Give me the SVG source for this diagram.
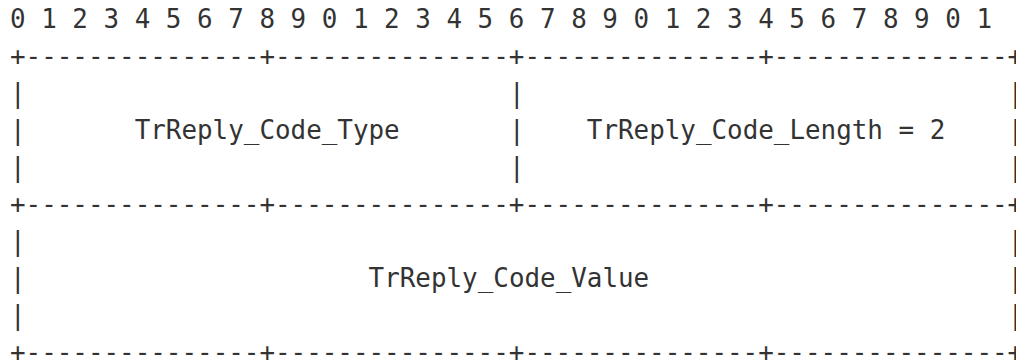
<svg xmlns="http://www.w3.org/2000/svg" width="1016" height="360" viewBox="0 0 1016 360">
<style>
text{font-family:"DejaVu Sans Mono","Liberation Mono",monospace;font-size:25.9px;fill:#333;white-space:pre}
</style>
<rect width="1016" height="360" fill="#fff"/>
<g id="ruler">
<text x="10" y="28" xml:space="preserve">0 1 2 3 4 5 6 7 8 9 0 1 2 3 4 5 6 7 8 9 0 1 2 3 4 5 6 7 8 9 0 1</text>
</g>
<g id="borders">
<text x="10" y="65" xml:space="preserve">+---------------+---------------+---------------+---------------+</text>
<text x="10" y="102">|</text><text x="508.9" y="102">|</text><text x="1007.8" y="102">|</text>
<text x="10" y="139">|</text><text x="508.9" y="139">|</text><text x="1007.8" y="139">|</text>
<text x="10" y="176">|</text><text x="508.9" y="176">|</text><text x="1007.8" y="176">|</text>
<text x="10" y="213" xml:space="preserve">+---------------+---------------+---------------+---------------+</text>
<text x="10" y="250">|</text><text x="1007.8" y="250">|</text>
<text x="10" y="287">|</text><text x="1007.8" y="287">|</text>
<text x="10" y="324">|</text><text x="1007.8" y="324">|</text>
<text x="10" y="361" xml:space="preserve">+---------------+---------------+---------------+---------------+</text>
</g>
<g id="field-type">
<text x="134.7" y="139">TrReply_Code_Type</text>
</g>
<g id="field-length">
<text x="586.8" y="139">TrReply_Code_Length = 2</text>
</g>
<g id="field-value">
<text x="368.6" y="287">TrReply_Code_Value</text>
</g>
</svg>
